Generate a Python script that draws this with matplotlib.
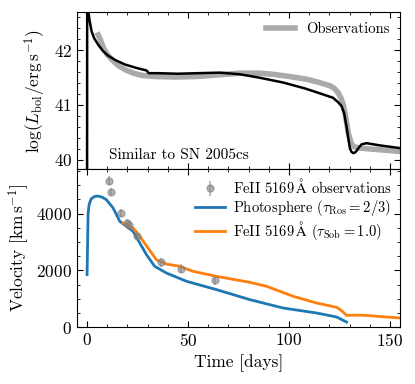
import numpy as np
import matplotlib
matplotlib.use('Agg')
import matplotlib.pyplot as plt
from matplotlib.ticker import MultipleLocator

plt.rcParams.update({
    'font.family': 'serif',
    'font.serif': ['cmr10'],
    'mathtext.fontset': 'cm',
    'axes.formatter.use_mathtext': True,
    'font.size': 12.5,
    'xtick.direction': 'in', 'ytick.direction': 'in',
    'xtick.top': True, 'ytick.right': True,
})

# ── Bolometric light curve ────────────────────────────────────────────────────
model_t = [0.0, 0.05, 0.5, 1.2, 2.2, 3.5, 5.5, 8.0, 10.4, 14, 18.7, 24, 29.4, 30.6,
           35, 45, 55, 65.8, 75.7, 85, 97, 108, 117, 121.8, 124.3, 126, 127.3, 128.5,
           129.4, 130.2, 131.0, 131.8, 132.7, 133.5, 134.8, 136, 138.4, 145, 155]
model_L = [39.5, 43.2, 42.75, 42.55, 42.35, 42.22, 42.1, 41.98, 41.9, 41.82, 41.74, 41.68,
           41.63, 41.58, 41.58, 41.57, 41.58, 41.59, 41.56, 41.5, 41.41, 41.3, 41.19, 41.13,
           41.05, 40.98, 40.85, 40.6, 40.38, 40.2, 40.14, 40.12, 40.13, 40.16, 40.23, 40.28,
           40.30, 40.26, 40.21]

obs_t = [5.5, 6.5, 8, 10, 12.5, 15.4, 19, 23, 27, 33, 43.5, 55, 65, 75.7, 85, 92, 100,
         108.7, 115, 120.3, 122.5, 124.4, 125.8, 126.9, 128, 129.3, 130.5, 131.8, 135, 145, 155]
obs_L = [42.28, 42.2, 42.05, 41.92, 41.82, 41.72, 41.64, 41.58, 41.54, 41.52, 41.51, 41.52,
         41.55, 41.58, 41.58, 41.56, 41.52, 41.47, 41.41, 41.35, 41.30, 41.22, 41.12, 41.0,
         40.8, 40.5, 40.33, 40.24, 40.21, 40.18, 40.15]

# ── Velocities ────────────────────────────────────────────────────────────────
ph_t = [0, 0.5, 1, 2, 3.8, 5.5, 7.5, 9.6, 12.9, 16.2, 19.5, 22.8, 26.1, 29.4, 33.5, 39.3,
        49.3, 64.1, 80.6, 97.1, 113.7, 123.6, 128.5]
ph_v = [1850, 4000, 4320, 4520, 4610, 4620, 4580, 4490, 4200, 3730, 3550, 3376, 2963, 2554,
        2141, 1905, 1612, 1319, 966, 670, 494, 353, 176]

fe_t = [17.8, 22.8, 26.1, 30.2, 34.3, 39.3, 45.9, 52.5, 64.1, 80.6, 88.9, 102.1, 113.7,
        123.6, 126, 128.5, 133.5, 138.4, 145, 155]
fe_v = [3668, 3492, 3200, 2787, 2377, 2222, 2141, 1965, 1788, 1577, 1436, 1083, 847, 695,
        580, 410, 420, 410, 370, 318]

vobs_t = [10.8, 11.7, 16.7, 20.0, 20.8, 24.5, 36.4, 46.4, 63.4]
vobs_v = [5164, 4762, 4021, 3668, 3612, 3224, 2282, 2060, 1647]
vobs_err = [150] * len(vobs_t)

fig = plt.figure(figsize=(4.15, 3.84), dpi=100)
gs = fig.add_gridspec(2, 1, left=0.1855, right=0.964, top=0.969, bottom=0.1484, hspace=0)
ax1 = fig.add_subplot(gs[0])
ax2 = fig.add_subplot(gs[1], sharex=ax1)

ax1.plot(obs_t, obs_L, color='#aaaaaa', lw=4, label='Observations')
ax1.plot(model_t, model_L, color='black', lw=1.8)
ax1.set_ylim(39.82, 42.7)
ax1.set_xlim(-5, 155)
ax1.set_ylabel(r'$\log(L_\mathrm{bol}/\mathrm{erg\,s^{-1}})$')
ax1.yaxis.set_major_locator(MultipleLocator(1))
ax1.yaxis.set_minor_locator(MultipleLocator(0.2))
ax1.xaxis.set_major_locator(MultipleLocator(50))
ax1.xaxis.set_minor_locator(MultipleLocator(10))
ax1.tick_params(labelbottom=False)
ax1.text(0.10, 0.09, 'Similar to SN 2005cs', transform=ax1.transAxes, fontsize=11, va='center')
ax1.legend(loc='upper right', frameon=False, fontsize=10.5, handlelength=2.0,
           borderaxespad=0.3)

eb = ax2.errorbar(vobs_t, vobs_v, yerr=vobs_err, fmt='o', color='gray', alpha=0.6, ms=5,
                  elinewidth=1.2, label=r'FeII 5169$\,\mathrm{\AA}$ observations')
ln_ph, = ax2.plot(ph_t, ph_v, color='#1f77b4', lw=2,
                  label=r'Photosphere ($\tau_\mathrm{Ros} = 2/3$)')
ln_fe, = ax2.plot(fe_t, fe_v, color='#ff7f0e', lw=2,
                  label=r'FeII 5169$\,\mathrm{\AA}$ ($\tau_\mathrm{Sob} = 1.0$)')
ax2.set_ylim(0, 5560)
ax2.yaxis.set_major_locator(MultipleLocator(2000))
ax2.yaxis.set_minor_locator(MultipleLocator(500))
ax2.set_xlabel('Time [days]')
ax2.set_ylabel(r'Velocity [km$\,$s$^{-1}$]')
ax2.legend([eb, ln_ph, ln_fe], [h.get_label() for h in (eb, ln_ph, ln_fe)],
           loc='upper right', frameon=False, fontsize=10.5, handlelength=2.0,
           labelspacing=0.08, borderaxespad=0.15, handletextpad=0.6)

for ax in (ax1, ax2):
    ax.tick_params(which='major', length=4)
    ax.tick_params(which='minor', length=2)

fig.savefig('out.png', dpi=100)
